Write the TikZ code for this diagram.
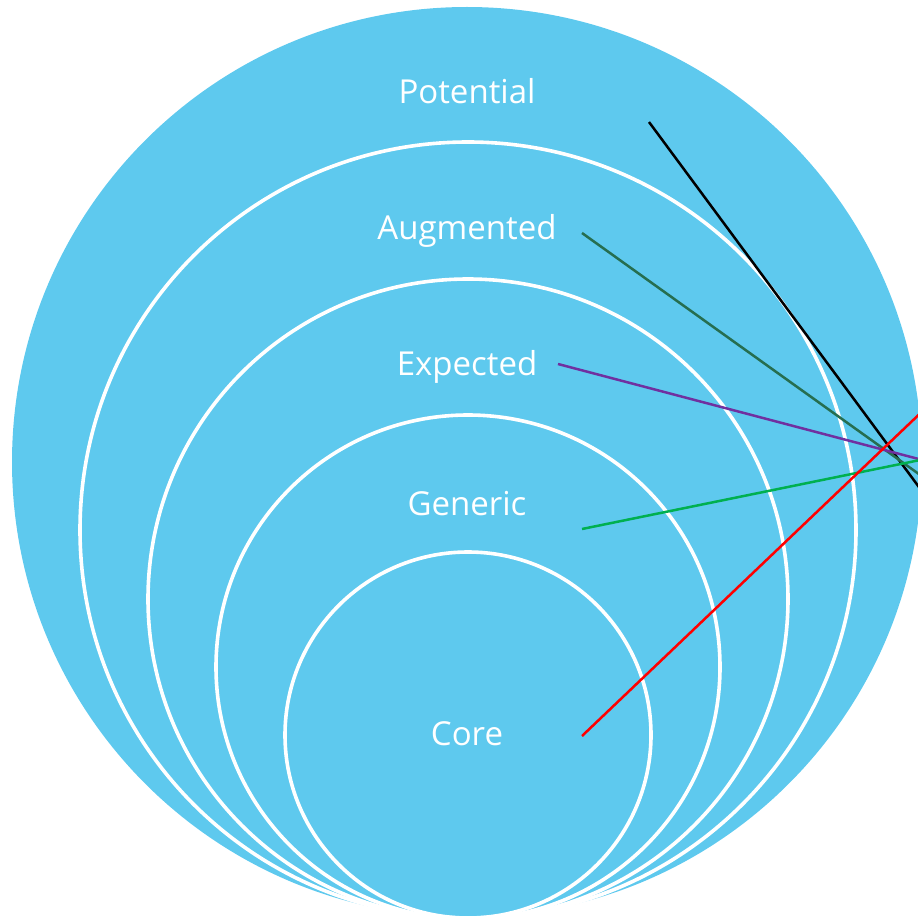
\documentclass[tikz,border=0pt]{standalone}
\usepackage{fontspec}
\setmainfont{Open Sans}
\definecolor{sky}{RGB}{94,201,238}
\definecolor{dgreen}{RGB}{38,110,80}
\definecolor{purp}{RGB}{112,48,160}
\definecolor{grn}{RGB}{0,176,80}
\tikzset{
  ring/.style={draw=white, line width=3.6pt},
  lbl/.style={text=white, font=\fontsize{33}{40}\selectfont, inner sep=0pt, anchor=base},
  ptr/.style={line width=2.5pt}
}
\begin{document}
\begin{tikzpicture}[x=1pt,y=-1pt]
\useasboundingbox (0,0) rectangle (918,917);
\clip (0,0) rectangle (918,917);
\fill[sky] (467,462) circle (455pt);
\draw[ring] (468,530) circle (388pt);
\draw[ring] (468,599) circle (320pt);
\draw[ring] (468,667) circle (252pt);
\draw[ring] (468,735) circle (183pt);
\node[lbl] (potential) at (467,104) {Potential};
\node[lbl] (augmented) at (467,240) {Augmented};
\node[lbl] (expected) at (467,375) {Expected};
\node[lbl] (generic) at (467,515) {Generic};
\node[lbl] (core) at (467,745) {Core};
\coordinate (p1) at (649,122);
\coordinate (p2) at (930,502);
\coordinate (a1) at (582,233);
\coordinate (a2) at (930,482);
\coordinate (e1) at (558,364);
\coordinate (e2) at (930,462);
\coordinate (g1) at (582,529);
\coordinate (g2) at (930,458);
\coordinate (c1) at (582,736);
\coordinate (c2) at (930,404);
\draw[ptr,black] (p1) -- (p2);
\draw[ptr,dgreen] (a1) -- (a2);
\draw[ptr,purp] (e1) -- (e2);
\draw[ptr,grn] (g1) -- (g2);
\draw[ptr,red] (c1) -- (c2);
\end{tikzpicture}
\end{document}
